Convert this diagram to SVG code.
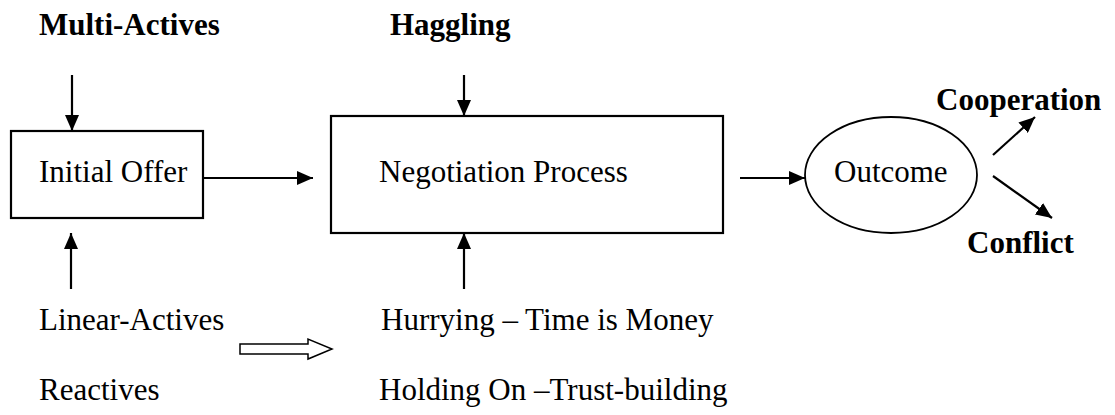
<svg xmlns="http://www.w3.org/2000/svg" width="1115" height="415" viewBox="0 0 1115 415">
<style>
text{font-family:"Liberation Serif","Times New Roman",serif;font-size:31px;fill:#000}
.b{font-weight:bold}
.box{fill:#fff;stroke:#000;stroke-width:2.2}
.ln{stroke:#000;stroke-width:2.2;fill:none}
</style>
<defs>
<marker id="ah" markerUnits="userSpaceOnUse" markerWidth="16" markerHeight="14" refX="16" refY="7" orient="auto">
<path d="M0,0 L16,7 L0,14 Z" fill="#000"/>
</marker>
</defs>
<g id="labels">
<text class="b" x="39" y="35">Multi-Actives</text>
<text class="b" x="390" y="35">Haggling</text>
<text class="b" x="936" y="110">Cooperation</text>
<text class="b" x="967" y="253">Conflict</text>
<text x="39" y="330">Linear-Actives</text>
<text x="39" y="400">Reactives</text>
<text x="381" y="330">Hurrying – Time is Money</text>
<text x="379" y="400">Holding On –Trust-building</text>
</g>
<g id="initial-offer">
<rect class="box" x="11" y="131" width="192" height="87"/>
<text x="39" y="182">Initial Offer</text>
</g>
<g id="negotiation-process">
<rect class="box" x="331" y="116" width="392" height="117"/>
<text x="379" y="182">Negotiation Process</text>
</g>
<g id="outcome">
<ellipse cx="891" cy="175" rx="86" ry="58" fill="#fff" stroke="#000" stroke-width="1.8"/>
<text x="834" y="182">Outcome</text>
</g>
<g id="connectors">
<line class="ln" x1="72" y1="75" x2="72" y2="131" marker-end="url(#ah)"/>
<line class="ln" x1="203" y1="178" x2="313" y2="178" marker-end="url(#ah)"/>
<line class="ln" x1="464" y1="75" x2="464" y2="116" marker-end="url(#ah)"/>
<line class="ln" x1="71" y1="289" x2="71" y2="233" marker-end="url(#ah)"/>
<line class="ln" x1="464" y1="289" x2="464" y2="233" marker-end="url(#ah)"/>
<line class="ln" x1="740" y1="178" x2="805" y2="178" marker-end="url(#ah)"/>
<line class="ln" x1="993" y1="155" x2="1035" y2="117" marker-end="url(#ah)"/>
<line class="ln" x1="993" y1="176" x2="1052" y2="218" marker-end="url(#ah)"/>
<path d="M240,344 L308,344 L308,339 L332,349 L308,359 L308,354 L240,354 Z" fill="#fff" stroke="#000" stroke-width="1.5"/>
</g>
</svg>
